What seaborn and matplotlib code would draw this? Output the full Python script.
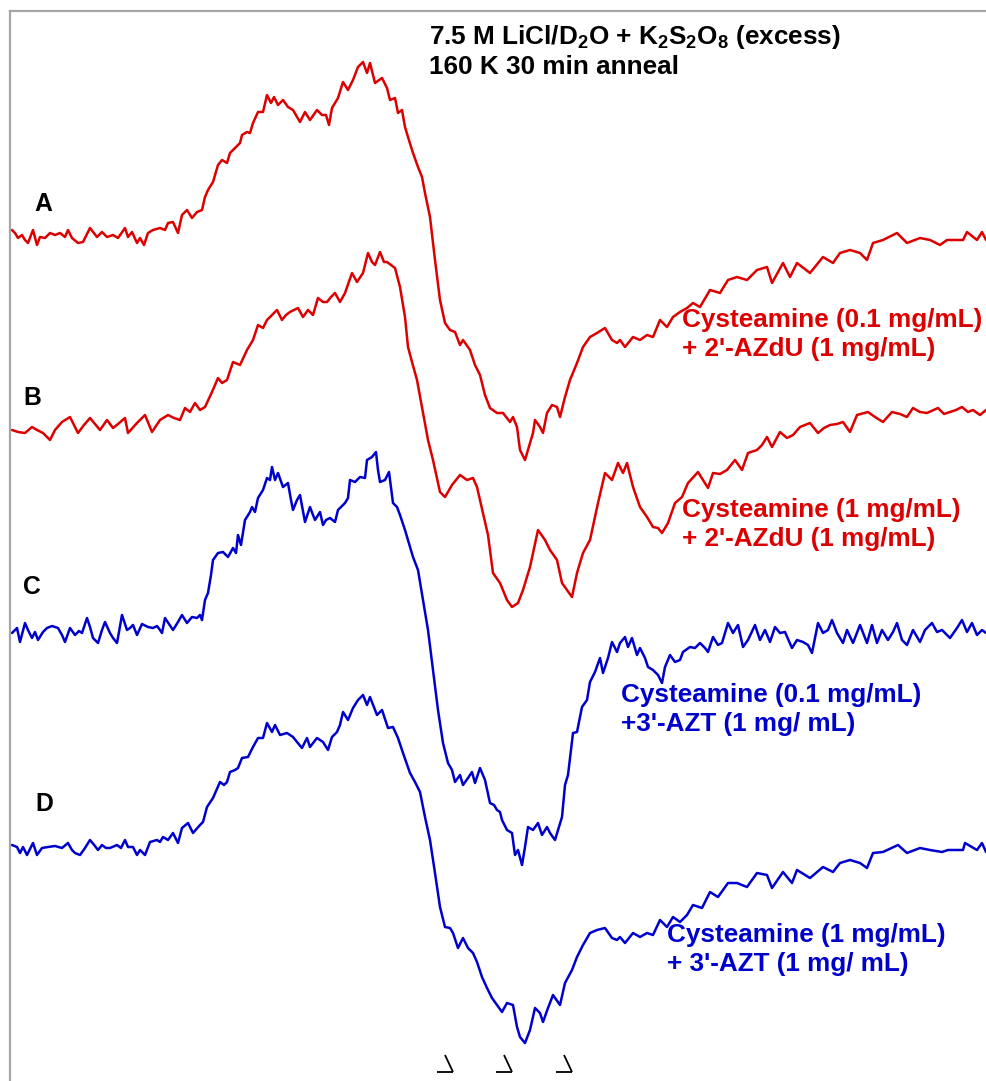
import numpy as np
import matplotlib
matplotlib.use("Agg")
import matplotlib.pyplot as plt
import seaborn as sns

# ---------------------------------------------------------------------------
# ESR spectra (first-derivative, arbitrary units) vs. field channel
# ---------------------------------------------------------------------------
field_a = [12, 15, 18, 22, 25, 28, 33, 37, 40, 45, 50, 55, 60, 65, 68, 72, 78, 83, 90, 97,
           102, 107, 113, 118, 125, 128, 132, 137, 140, 144, 148, 153, 160, 165, 168, 173, 178,
           182, 187, 192, 197, 202, 205, 208, 213, 218, 222, 227, 230, 235, 240, 242, 247, 250,
           253, 258, 263, 267, 271, 274, 278, 283, 288, 293, 300, 305, 310, 317, 322, 326, 329,
           332, 338, 343, 348, 353, 358, 363, 367, 370, 375, 382, 387, 390, 395, 398, 402, 405,
           408, 413, 418, 422, 425, 430, 435, 440, 445, 450, 455, 460, 463, 470, 475, 480, 485,
           490, 497, 503, 510, 513, 517, 520, 525, 528, 533, 535, 540, 543, 547, 552, 557, 560,
           565, 570, 577, 583, 590, 597, 605, 612, 617, 620, 625, 633, 640, 647, 653, 660, 667,
           673, 680, 687, 693, 700, 710, 720, 728, 737, 747, 757, 767, 772, 783, 790, 797, 810,
           823, 833, 840, 850, 860, 867, 873, 883, 897, 907, 920, 930, 940, 947, 963, 967, 977,
           982, 986]
signal_a = [5, 2, -3, 0, -5, -8, 5, -10, -2, -3, 2, 0, 2, -2, 5, -3, -8, -7, 7, -2,
            3, -2, 0, -3, 7, -2, 3, -8, -3, -10, 2, 5, 7, 5, 12, 13, 2,
            20, 25, 17, 23, 25, 38, 45, 53, 70, 75, 72, 82, 87, 92, 100, 103, 102,
            112, 123, 123, 140, 132, 138, 130, 135, 128, 125, 113, 123, 115, 125, 120, 120, 110,
            127, 137, 153, 145, 155, 168, 173, 162, 172, 152, 157, 147, 135, 137, 122, 125, 108,
            98, 82, 68, 58, 42, 18, -25, -65, -88, -95, -97, -110, -105, -115, -130, -140, -160,
            -173, -178, -178, -187, -182, -192, -215, -225, -215, -198, -185, -192, -198, -178, -170, -172, -182,
            -162, -145, -128, -112, -102, -98, -93, -105, -108, -105, -112, -102, -105, -100, -102, -85, -92,
            -82, -77, -73, -68, -72, -55, -58, -45, -42, -45, -35, -32, -48, -28, -42, -28, -38,
            -22, -28, -18, -15, -18, -25, -8, -5, 2, -8, -3, -5, -10, -5, -5, 3, -5,
            3, -5]

field_b = [12, 18, 25, 32, 37, 43, 50, 55, 62, 70, 78, 84, 90, 95, 100, 107, 113, 118, 125, 128,
           137, 145, 152, 160, 168, 174, 180, 185, 190, 195, 200, 205, 212, 218, 222, 227, 233,
           240, 247, 253, 258, 263, 267, 272, 277, 282, 286, 290, 298, 303, 308, 313, 318, 323,
           327, 331, 335, 340, 345, 352, 357, 363, 368, 372, 375, 380, 384, 387, 391, 395, 400,
           405, 408, 412, 417, 423, 428, 433, 440, 445, 452, 460, 467, 473, 477, 483, 488, 493,
           500, 507, 512, 518, 523, 530, 538, 545, 550, 557, 562, 567, 572, 577, 583, 590, 598,
           605, 612, 618, 623, 627, 633, 640, 647, 653, 658, 662, 668, 675, 682, 688, 698, 708,
           713, 720, 727, 735, 742, 748, 757, 762, 767, 772, 780, 787, 793, 800, 810, 818, 824,
           830, 837, 843, 850, 857, 868, 875, 883, 892, 900, 907, 913, 920, 927, 938, 944, 950,
           956, 962, 968, 973, 980, 986]
signal_b = [0, -2, -3, 3, 0, -3, -10, 0, 8, 13, -3, 5, 12, 6, 0, 10, 2, 6, 12, -3,
            7, 15, -2, 10, 15, 12, 10, 22, 18, 27, 20, 23, 38, 52, 47, 50, 68,
            65, 80, 90, 105, 102, 110, 115, 120, 110, 115, 118, 122, 113, 120, 115, 132, 128,
            128, 133, 137, 128, 137, 157, 148, 157, 177, 168, 165, 178, 168, 168, 165, 162, 143,
            113, 83, 68, 50, 17, -10, -30, -62, -67, -55, -45, -50, -48, -57, -83, -105, -143,
            -153, -170, -177, -173, -160, -137, -100, -110, -120, -130, -153, -160, -167, -143, -123, -110, -73,
            -43, -50, -33, -43, -33, -57, -77, -87, -97, -98, -103, -93, -73, -67, -53, -42, -58,
            -43, -44, -40, -30, -40, -23, -20, -15, -7, -17, -2, -8, -5, 3, 7, -3, 2,
            5, 6, 8, -2, 15, 18, 13, 8, 18, 16, 13, 22, 18, 17, 22, 16, 18,
            20, 23, 18, 20, 15, 20]

field_c = [12, 15, 17, 20, 25, 28, 32, 35, 38, 43, 47, 52, 58, 62, 65, 70, 75, 79, 82, 87,
           90, 93, 98, 102, 105, 110, 113, 117, 122, 127, 130, 133, 137, 142, 148, 153, 157,
           160, 162, 165, 169, 173, 178, 182, 187, 192, 197, 200, 202, 205, 208, 211, 213, 218,
           223, 228, 233, 236, 238, 241, 245, 250, 252, 255, 258, 263, 267, 270, 272, 275, 278,
           283, 288, 291, 293, 297, 300, 305, 310, 313, 315, 320, 323, 326, 330, 335, 338, 345,
           348, 350, 355, 360, 365, 367, 372, 376, 378, 380, 385, 389, 393, 397, 400, 405, 408,
           413, 418, 423, 428, 433, 438, 443, 448, 452, 455, 460, 463, 468, 472, 475, 480, 485,
           490, 494, 497, 500, 502, 507, 512, 515, 518, 522, 525, 528, 533, 538, 542, 547, 550,
           555, 558, 562, 565, 568, 573, 577, 582, 587, 590, 595, 600, 603, 608, 612, 617, 620,
           625, 628, 632, 637, 640, 645, 648, 653, 658, 662, 665, 670, 675, 680, 683, 690, 695,
           700, 705, 708, 713, 718, 722, 728, 733, 738, 743, 748, 755, 760, 765, 770, 775, 780,
           785, 792, 797, 803, 808, 812, 818, 823, 828, 832, 837, 843, 847, 853, 860, 867, 872,
           877, 882, 888, 893, 897, 902, 907, 913, 920, 925, 932, 937, 942, 950, 957, 962, 967,
           972, 977, 982, 986]
signal_c = [-1, 2, 4, -10, 9, 2, -6, 0, -8, 0, 4, 6, 4, -3, -10, 4, -3, 1, -1, 14,
            5, -6, -11, 2, 10, -1, -6, -11, 17, 2, 4, 7, -3, 8, 5, 4, 6,
            2, -1, 14, 8, 2, 10, 17, 9, 15, 14, 17, 12, 32, 39, 57, 72, 79,
            80, 75, 84, 79, 97, 87, 112, 120, 125, 120, 134, 142, 154, 152, 165, 152, 159,
            145, 149, 132, 122, 132, 137, 110, 125, 117, 112, 120, 107, 112, 114, 110, 122, 129,
            134, 152, 150, 155, 154, 172, 175, 180, 162, 150, 152, 160, 129, 125, 117, 102, 92,
            75, 62, 32, 2, -38, -78, -111, -131, -138, -150, -143, -153, -146, -140, -151, -136, -148,
            -171, -173, -178, -180, -188, -198, -201, -223, -218, -233, -215, -195, -198, -191, -203, -195, -201,
            -208, -198, -185, -153, -143, -101, -100, -75, -68, -50, -40, -26, -41, -26, -10, -20, -11,
            -5, -15, -6, -23, -16, -26, -35, -38, -43, -51, -35, -23, -30, -28, -20, -15, -16,
            -11, -16, -20, -5, -13, -11, 9, -1, 7, -15, -8, 7, -8, 2, -10, 5, -1,
            0, -16, -8, -10, -13, -21, 9, -1, 2, 12, -1, -11, 2, -11, 7, -11, 7,
            -11, 2, -8, 0, 9, -8, -13, 2, -10, 2, 9, 0, 2, -6, 4, 12, 0,
            9, -3, 2, -1]

field_d = [12, 17, 20, 23, 27, 33, 37, 42, 48, 55, 62, 68, 72, 75, 80, 85, 90, 95, 98, 102,
           106, 110, 117, 121, 125, 128, 133, 137, 140, 145, 150, 157, 160, 163, 168, 173, 178,
           182, 188, 193, 200, 203, 207, 213, 220, 224, 227, 230, 235, 238, 242, 248, 253, 258,
           263, 267, 272, 275, 280, 287, 293, 297, 302, 307, 310, 317, 323, 328, 332, 337, 340,
           343, 348, 353, 358, 363, 367, 370, 377, 382, 388, 393, 398, 403, 410, 415, 420, 425,
           430, 435, 440, 445, 450, 453, 458, 463, 468, 473, 477, 482, 487, 492, 497, 502, 507,
           513, 517, 520, 525, 530, 535, 540, 543, 548, 553, 560, 565, 572, 577, 583, 590, 597,
           605, 612, 617, 620, 625, 633, 640, 647, 653, 660, 667, 673, 680, 687, 693, 702, 710,
           718, 728, 737, 747, 757, 767, 772, 783, 792, 797, 810, 823, 833, 840, 850, 860, 867,
           873, 883, 898, 907, 920, 930, 942, 948, 963, 965, 977, 982, 986]
signal_d = [3, 1, -5, 1, -7, 5, -7, 0, 1, 2, 0, 5, -2, -5, -7, 0, 8, 2, -2, 3,
            0, 0, 3, 0, 8, 1, 1, -7, -2, -7, 6, 8, 6, 11, 8, 15, 5,
            20, 25, 15, 23, 26, 41, 50, 66, 63, 66, 76, 78, 80, 90, 91, 101, 110,
            110, 125, 116, 123, 113, 115, 111, 106, 100, 110, 101, 110, 106, 98, 111, 116, 123,
            136, 128, 140, 148, 153, 143, 151, 133, 138, 120, 121, 110, 95, 75, 66, 56, 31,
            8, -25, -59, -79, -80, -85, -100, -90, -100, -105, -114, -129, -140, -150, -157, -164, -155,
            -157, -179, -189, -195, -182, -160, -165, -174, -160, -147, -157, -135, -122, -109, -97, -85, -82,
            -80, -90, -92, -89, -95, -85, -89, -85, -87, -72, -79, -69, -74, -67, -57, -60, -44,
            -49, -35, -35, -39, -25, -27, -40, -24, -35, -22, -30, -19, -24, -15, -12, -15, -20,
            -5, -4, 3, -5, 0, -2, -4, -2, -2, 5, -2, 5, -4]

trace_names = ["A", "B", "C", "D"]
trace_fields = [field_a, field_b, field_c, field_d]
trace_signals = [signal_a, signal_b, signal_c, signal_d]
trace_labels = [
    ["Cysteamine (0.1 mg/mL)", "+ 2'-AZdU (1 mg/mL)"],
    ["Cysteamine (1 mg/mL)", "+ 2'-AZdU (1 mg/mL)"],
    ["Cysteamine (0.1 mg/mL)", "+3'-AZT (1 mg/ mL)"],
    ["Cysteamine (1 mg/mL)", "+ 3'-AZT (1 mg/ mL)"],
]
title_lines = [r"7.5 M LiCl/D$_2$O + K$_2$S$_2$O$_8$ (excess)", "160 K 30 min anneal"]
# field positions of the three hyperfine markers under the spectra
marker_fields = [453, 512, 572]

# ---------------------------------------------------------------------------
# layout / styling
# ---------------------------------------------------------------------------
RED = "#dd0000"
BLUE = "#0000cc"
trace_colors = [RED, RED, BLUE, BLUE]
stack_offsets = [846, 651, 449, 233]
letter_pos = [(43, 877), (32, 683), (32, 494), (44, 277)]
label_pos = [(682, 754), (682, 564), (621, 379), (667, 139)]   # first-line baseline
LINE_STEP = 29

sns.set_style("white")
plt.rcParams["font.family"] = ["Liberation Sans", "DejaVu Sans"]
plt.rcParams["font.weight"] = "bold"
plt.rcParams["mathtext.fontset"] = "custom"
plt.rcParams["mathtext.rm"] = "Liberation Sans:bold"
plt.rcParams["mathtext.it"] = "Liberation Sans:bold"
plt.rcParams["mathtext.bf"] = "Liberation Sans:bold"

W, H = 986, 1081
fig = plt.figure(figsize=(W / 100, H / 100), dpi=100)
fig.patch.set_facecolor("white")
ax = fig.add_axes([10 / W, 0, (W - 10) / W, (H - 11) / H])
ax.set_xlim(10, 986)
ax.set_ylim(0, 1070)

for name, xs, ys, off, col in zip(trace_names, trace_fields, trace_signals,
                                   stack_offsets, trace_colors):
    sns.lineplot(x=np.asarray(xs, float), y=np.asarray(ys, float) + off, ax=ax,
                 color=col, lw=1.8, estimator=None, sort=False)

FS = 18.8
for name, (lx, ly) in zip(trace_names, letter_pos):
    ax.text(lx, ly, name, ha="center", va="center", fontsize=FS * 0.95,
            fontweight="bold", color="black")

for lines, (tx, ty), col in zip(trace_labels, label_pos, trace_colors):
    for i, line in enumerate(lines):
        ax.text(tx, ty - i * LINE_STEP, line, ha="left", va="baseline", fontsize=FS,
                fontweight="bold", color=col)

ax.text(429, 1037, title_lines[0], ha="left", va="baseline", fontsize=FS,
        fontweight="bold", color="black")
ax.text(429, 1007, title_lines[1], ha="left", va="baseline", fontsize=FS,
        fontweight="bold", color="black")

# hyperfine markers: short base with a slanted stroke
for mf in marker_fields:
    ax.plot([mf - 16, mf], [9, 9], color="black", lw=1.3, solid_capstyle="butt")
    ax.plot([mf - 8, mf], [26, 9], color="black", lw=1.3, solid_capstyle="butt")

ax.set_xticks([])
ax.set_yticks([])
ax.set_xlabel("")
ax.set_ylabel("")
for side in ("right", "bottom"):
    ax.spines[side].set_visible(False)
for side in ("left", "top"):
    ax.spines[side].set_visible(True)
    ax.spines[side].set_color("#a6a6a6")
    ax.spines[side].set_linewidth(1.6)

fig.savefig("out.png", dpi=100, facecolor="white")
